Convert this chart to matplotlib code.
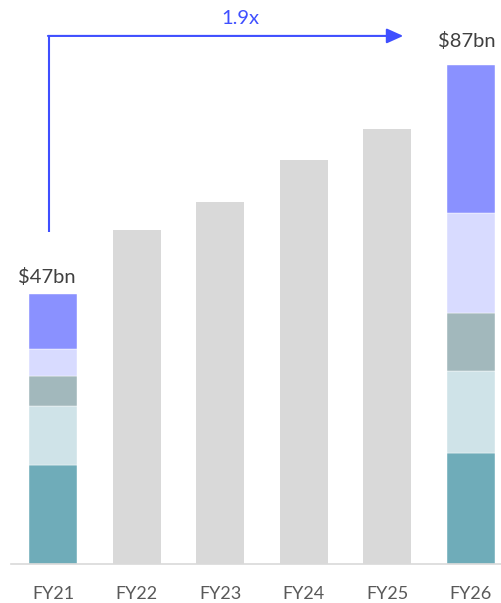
import matplotlib.pyplot as plt
import numpy as np

plt.rcParams['font.family'] = ['Lato', 'DejaVu Sans']

years = ['FY21', 'FY22', 'FY23', 'FY24', 'FY25', 'FY26']
totals = [47, 58.2, 63.1, 70.4, 75.8, 87]

# stacked split for first and last year (bottom -> top), $bn
seg_fy21 = [17.3, 10.3, 5.2, 4.6, 9.6]
seg_fy26 = [19.3, 14.3, 10.1, 17.4, 25.9]
seg_colors = ['#6FACB9', '#CFE3E8', '#A2B8BC', '#D8DBFF', '#8A91FF']
grey = '#D9D9D9'
blue = '#3F4FFF'
multiple = '1.9x'

fig = plt.figure(figsize=(5.02, 6.03), dpi=100)
ax = fig.add_axes([11 / 502, 1 - 564 / 603, 1 - 11 / 502, 564 / 603])

x = np.arange(len(years))
w = 0.574

# middle years as plain grey totals
for i in range(1, len(years) - 1):
    ax.bar(x[i], totals[i], width=w, color=grey)

for i, segs in [(0, seg_fy21), (len(years) - 1, seg_fy26)]:
    bottom = 0
    for v, c in zip(segs, seg_colors):
        ax.bar(x[i], v, bottom=bottom, width=w, color=c, edgecolor='white', linewidth=0.3)
        bottom += v

ax.text(x[0] - 0.07, totals[0] + 1.5, f'${totals[0]:.0f}bn', ha='center', va='bottom',
        fontsize=14.5, color='#404040')
ax.text(x[-1] - 0.05, totals[-1] + 2.6, f'${totals[-1]:.0f}bn', ha='center', va='bottom',
        fontsize=14.5, color='#404040')

# growth arrow from FY21 up and across to FY26
arrow_y = totals[-1] + 5
ax.plot([x[0] - 0.05, x[0] - 0.05], [totals[0] + 10.8, arrow_y], color=blue, lw=1.5,
        solid_capstyle='butt')
ax.annotate('', xy=(x[-1] - 0.81, arrow_y), xytext=(x[0] - 0.06, arrow_y),
            arrowprops=dict(arrowstyle='-|>,head_length=1.0,head_width=0.45', color=blue,
                            lw=1.5, shrinkA=0, shrinkB=0))
ax.text(2.24, arrow_y + 1.6, multiple, ha='center', va='bottom', fontsize=14.5, color=blue)

ax.set_xlim(-0.502, 5.371)
ax.set_ylim(0, 564 / 5.74)
ax.set_xticks(x)
ax.set_xticklabels(years, fontsize=13, color='#595959')
ax.tick_params(axis='x', length=0, pad=16)
ax.set_yticks([])
for s in ['top', 'right', 'left']:
    ax.spines[s].set_visible(False)
ax.spines['bottom'].set_color('#D9D9D9')
ax.spines['bottom'].set_linewidth(1.2)

fig.savefig('out.png', dpi=100)
